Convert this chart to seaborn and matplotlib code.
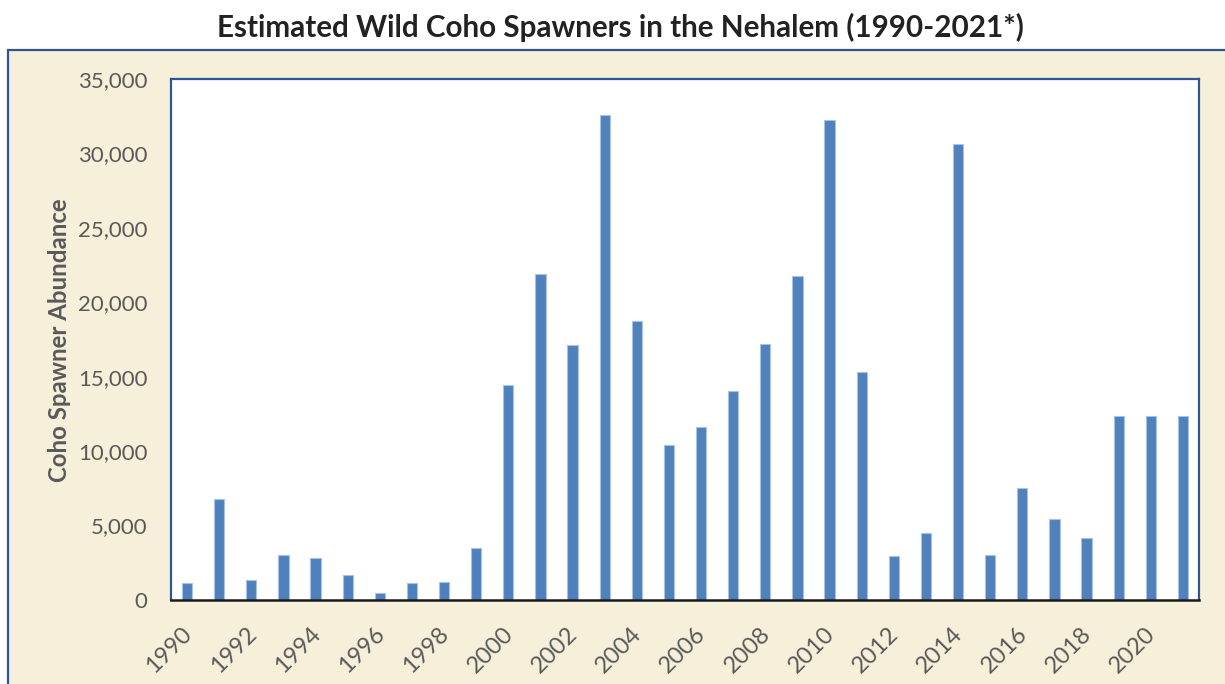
import matplotlib
matplotlib.use("Agg")
import matplotlib.pyplot as plt
import seaborn as sns
import pandas as pd
from matplotlib.patches import Rectangle
from matplotlib.ticker import FuncFormatter

years = [str(y) for y in range(1990, 2022)]
spawners = [1120, 6800, 1350, 3000, 2830, 1700, 500, 1150, 1190, 3500,
            14450, 21900, 17150, 32550, 18750, 10430, 11590, 14050, 17200, 21750,
            32220, 15330, 2960, 4510, 30600, 3050, 7520, 5450, 4170, 12380,
            12380, 12380]
title = "Estimated Wild Coho Spawners in the Nehalem (1990-2021*)"
ylabel = "Coho Spawner Abundance"
yticks = [0, 5000, 10000, 15000, 20000, 25000, 30000, 35000]

df = pd.DataFrame({"year": years, "spawners": spawners})

sns.set_theme(style="white")
plt.rcParams["font.family"] = ["Lato", "DejaVu Sans"]

W, H = 1225, 684
fig = plt.figure(figsize=(W / 100, H / 100), dpi=100)
fig.patch.set_facecolor("white")

navy = "#2F5597"
beige = "#F6F0DA"
grey = "#595959"

# beige chart panel
panel = Rectangle((8 / W, -0.05), 1.1, 1 - 50 / H + 0.05, transform=fig.transFigure,
                  facecolor=beige, edgecolor=navy, linewidth=1.6, clip_on=False, zorder=-10)
fig.patches.append(panel)

ax = fig.add_axes([171 / W, 1 - 600 / H, (1199 - 171) / W, (600 - 79) / H])
ax.set_zorder(1)
ax.set_facecolor("white")

sns.barplot(data=df, x="year", y="spawners", ax=ax, color="#4F81BD", width=0.32,
            edgecolor="#A9C2E3", linewidth=0.8, saturation=1)

ax.set_ylim(0, 35000)
ax.set_xlim(-0.5, len(years) - 0.5)
ax.set_yticks(yticks)
ax.yaxis.set_major_formatter(FuncFormatter(lambda v, p: f"{int(v):,}"))
ax.tick_params(axis="y", length=0, labelsize=16, labelcolor=grey, pad=17)

pos = list(range(0, len(years), 2))
ax.set_xticks(pos)
ax.set_xticklabels([years[i] for i in pos], rotation=45, ha="right", va="center_baseline",
                   rotation_mode="anchor")
ax.tick_params(axis="x", length=0, labelsize=17, labelcolor=grey, pad=21)

for s in ["top", "right", "left"]:
    ax.spines[s].set_color(navy)
    ax.spines[s].set_linewidth(1.6)
ax.spines["bottom"].set_color("#1a1a1a")
ax.spines["bottom"].set_linewidth(1.8)

ax.set_xlabel("")
ax.set_ylabel(ylabel, fontsize=17.3, fontweight="bold", color=grey)
ax.yaxis.label.set_verticalalignment("center")
ax.yaxis.set_label_coords(60 / W, 1 - 340 / H, transform=fig.transFigure)

fig.text(620 / W, 1 - 27 / H, title, ha="center", va="center", fontsize=21.3,
         fontweight="bold", color="#222222")

fig.savefig("out.png", dpi=100, facecolor=fig.get_facecolor())
